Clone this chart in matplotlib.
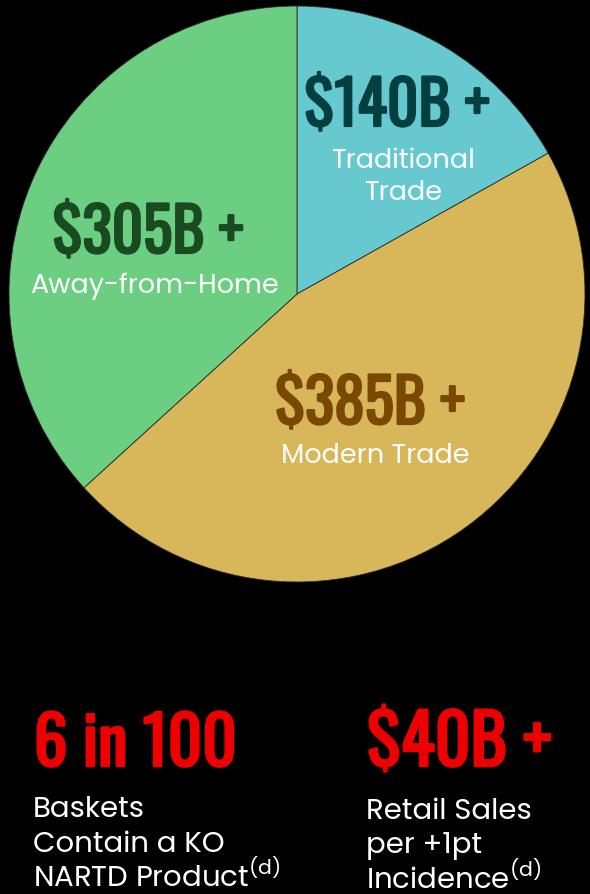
import matplotlib.pyplot as plt
import matplotlib.patheffects as pe

# channel sizes ($B) going clockwise from 12 o'clock
channels = ["Traditional\nTrade", "Modern Trade", "Away-from-Home"]
sizes = [140, 385, 305]
amounts = ["$140B +", "$385B +", "$305B +"]
slice_colors = ["#66C9CF", "#D7B75A", "#6BCE80"]
amount_colors = ["#033F3F", "#7A4800", "#1A4A22"]

# bottom callouts
stat_big = ["6 in 100", "$40B +"]
stat_text = [["Baskets", "Contain a KO", r"NARTD Product$^{\mathregular{(d)}}$"],
             ["Retail Sales", "per +1pt", r"Incidence$^{\mathregular{(d)}}$"]]

SANS = ['Poppins', 'Montserrat Alternates', 'DejaVu Sans']
plt.rcParams['mathtext.fontset'] = 'custom'
plt.rcParams['mathtext.rm'] = SANS[0]
BIG = ['Oswald', 'League Gothic', 'DejaVu Sans']

W, H = 590, 895
fig = plt.figure(figsize=(W / 100, H / 100), dpi=100, facecolor="black")

# pie axes: center (297, 295), radius 288 px
cx, cy, r = 297, 295, 288
pax = fig.add_axes([(cx - r) / W, (H - cy - r) / H, 2 * r / W, 2 * r / H])
pax.pie(sizes, colors=slice_colors, startangle=90, counterclock=False,
        wedgeprops=dict(edgecolor="#2a2a2a", linewidth=0.6))
pax.set_xlim(-1, 1)
pax.set_ylim(-1, 1)
pax.set_aspect("equal")
pax.axis("off")

# full-figure axes in pixel units for text, on top of the pie
bg = fig.add_axes([0, 0, 1, 1])
bg.set_xlim(0, W)
bg.set_ylim(H, 0)
bg.axis("off")
bg.set_zorder(3)
bg.patch.set_alpha(0)

def bold(color, w=1.6):
    return [pe.Stroke(linewidth=w, foreground=color), pe.Normal()]

# labels inside the slices (pixel positions: center x, baseline y)
amount_pos = [(397, 127), (370, 425), (148, 254)]
label_pos = [(403, 168), (375, 463), (154, 293)]
for i in range(len(sizes)):
    bg.text(*amount_pos[i], amounts[i], color=amount_colors[i], fontsize=44,
            family=BIG, ha="center", va="baseline",
            path_effects=bold(amount_colors[i]))
    for j, line in enumerate(channels[i].split("\n")):
        bg.text(label_pos[i][0], label_pos[i][1] + 32 * j, line, color="white",
                fontsize=19.5, family=SANS, ha="center", va="baseline")

# bottom stats
big_pos = [(34, 767), (367, 767)]
big_size = [48, 50]
line_base = [[817, 852, 887], [819, 853, 889]]
for i in range(2):
    bg.text(*big_pos[i], stat_big[i], color="#EE0000", fontsize=big_size[i],
            family=BIG, ha="left", va="baseline", path_effects=bold("#EE0000", 1.8))
    for j, line in enumerate(stat_text[i]):
        bg.text(big_pos[i][0] - 1, line_base[i][j], line, color="white", fontsize=21,
                family=SANS, ha="left", va="baseline")

fig.savefig("out.png", dpi=100, facecolor="black")
